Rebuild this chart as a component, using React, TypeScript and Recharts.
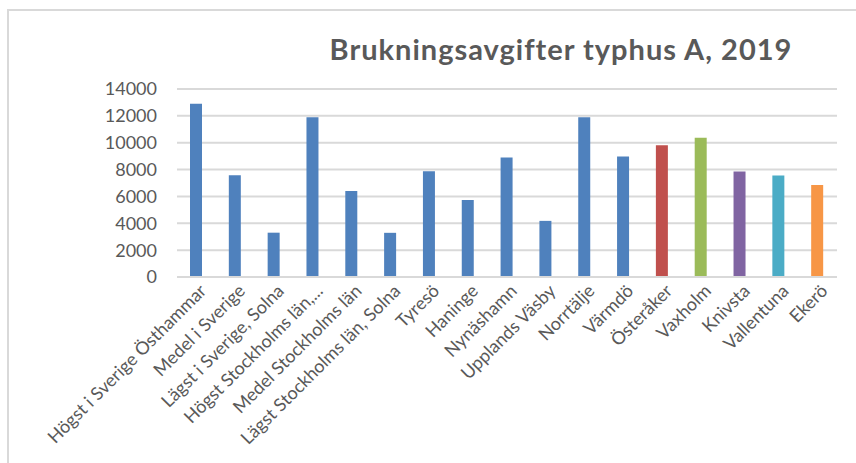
import { BarChart, Bar, Cell, CartesianGrid, XAxis, YAxis } from "recharts"

const categories = [
  "Högst i Sverige Östhammar",
  "Medel i Sverige",
  "Lägst i Sverige, Solna",
  "Högst Stockholms län,...",
  "Medel Stockholms län",
  "Lägst Stockholms län, Solna",
  "Tyresö",
  "Haninge",
  "Nynäshamn",
  "Upplands Väsby",
  "Norrtälje",
  "Värmdö",
  "Österåker",
  "Vaxholm",
  "Knivsta",
  "Vallentuna",
  "Ekerö",
]

const avgift = [
  12900, 7570, 3300, 11900, 6400, 3290, 7870, 5730, 8900, 4180, 11900, 8980,
  9820, 10370, 7860, 7560, 6860,
]

const barColors = [
  "#4F81BD", "#4F81BD", "#4F81BD", "#4F81BD", "#4F81BD", "#4F81BD",
  "#4F81BD", "#4F81BD", "#4F81BD", "#4F81BD", "#4F81BD", "#4F81BD",
  "#C0504D", "#9BBB59", "#8064A2", "#4BACC6", "#F79646",
]

const yTicks = [0, 2000, 4000, 6000, 8000, 10000, 12000, 14000]

const data = categories.map((name, i) => ({ name, value: avgift[i] }))

const font = "Lato, 'Open Sans', sans-serif"

function AngledTick({ x, y, payload }: any) {
  return (
    <g transform={`translate(${x + 4},${y})`}>
      <text
        textAnchor="end"
        transform="rotate(-45)"
        dy={10}
        fill="#595959"
        fontSize={18}
        fontFamily={font}
      >
        {payload.value}
      </text>
    </g>
  )
}

export default function App() {
  return (
    <div style={{ position: "absolute", left: 0, top: 0, width: 856, height: 463, background: "#fff" }}>
      <div
        style={{
          position: "absolute",
          left: 7,
          top: 9,
          width: 849,
          height: 454,
          borderTop: "2px solid #d9d9d9",
          borderLeft: "2px solid #d9d9d9",
        }}
      />
      <svg width={856} height={80} style={{ position: "absolute", left: 0, top: 0 }}>
        <text
          x={561}
          y={60}
          textAnchor="middle"
          fill="#595959"
          fontSize={29}
          letterSpacing={1}
          fontWeight="bold"
          fontFamily={font}
        >
          Brukningsavgifter typhus A, 2019
        </text>
      </svg>
      <div style={{ position: "absolute", left: 0, top: 0 }}>
        <BarChart
          width={856}
          height={463}
          data={data}
          margin={{ top: 89, right: 19, bottom: 0, left: 0 }}
        >
          <CartesianGrid vertical={false} stroke="#d9d9d9" strokeWidth={2} />
          <XAxis
            dataKey="name"
            interval={0}
            tickLine={false}
            axisLine={{ stroke: "#d9d9d9", strokeWidth: 2 }}
            tick={<AngledTick />}
            height={186}
          />
          <YAxis
            width={177}
            domain={[0, 14000]}
            ticks={yTicks}
            tickLine={false}
            axisLine={false}
            tickSize={0}
            tickMargin={20}
            tick={{ fill: "#595959", fontSize: 18, fontFamily: font }}
          />
          <Bar dataKey="value" barSize={12} isAnimationActive={false}>
            {data.map((d, i) => (
              <Cell key={d.name} fill={barColors[i]} />
            ))}
          </Bar>
        </BarChart>
      </div>
    </div>
  )
}
